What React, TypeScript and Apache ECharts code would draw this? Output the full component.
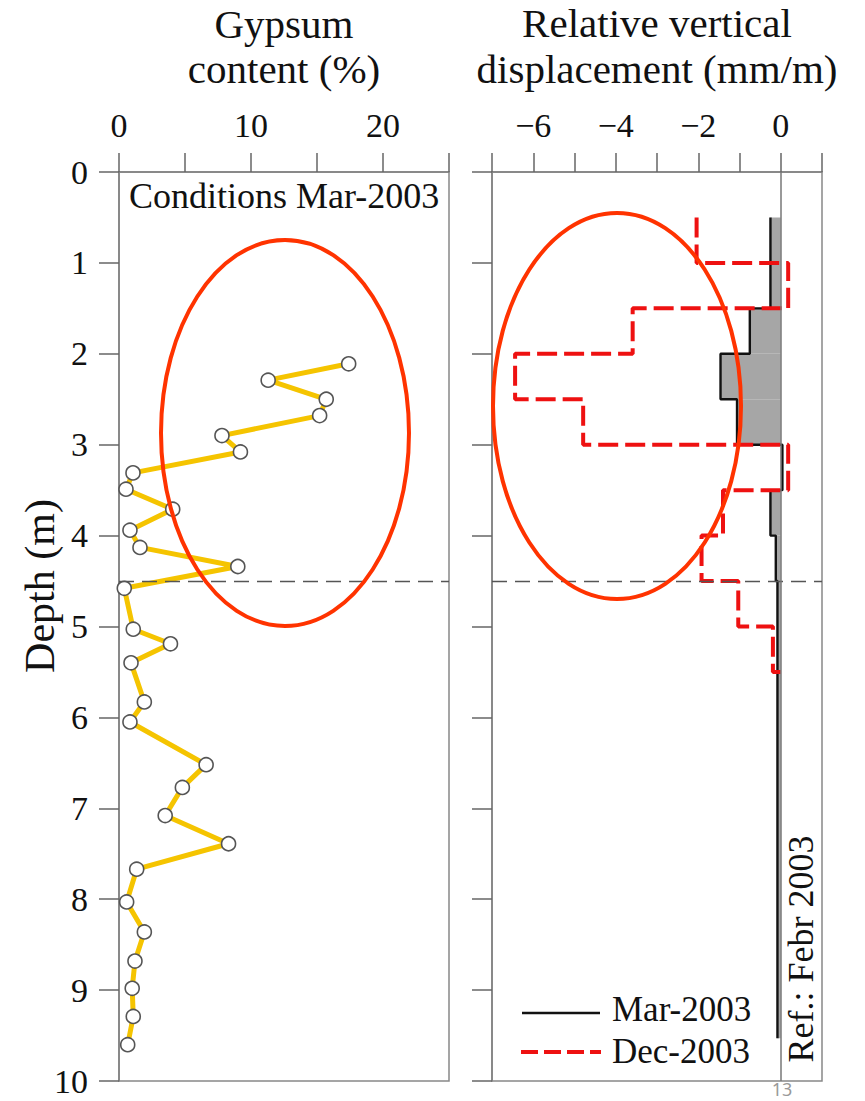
import React, { useEffect, useRef } from "react";
import * as echarts from "echarts";

// Gypsum content profile (Mar-2003)
const gypsumPct = [17.4, 11.3, 15.7, 15.2, 7.8, 9.2, 1.06, 0.53, 4.07, 0.83, 1.59, 9.0, 0.4, 1.08, 3.9, 0.91, 1.92, 0.83, 6.6, 4.8, 3.5, 8.3, 1.34, 0.58, 1.92, 1.21, 1.0, 1.08, 0.66];
const gypsumDepth = [2.11, 2.29, 2.5, 2.68, 2.9, 3.08, 3.31, 3.49, 3.71, 3.94, 4.13, 4.34, 4.58, 5.03, 5.19, 5.4, 5.83, 6.05, 6.52, 6.77, 7.08, 7.39, 7.67, 8.03, 8.36, 8.68, 8.98, 9.29, 9.6];

// Relative vertical displacement, Mar-2003 (interval values)
const marTop = [0.5, 1.5, 2.0, 2.5, 3.0, 3.5, 4.0, 4.5];
const marBottom = [1.5, 2.0, 2.5, 3.0, 3.5, 4.0, 4.5, 9.53];
const marValues = [-0.25, -0.75, -1.46, -1.06, 0.04, -0.25, -0.12, -0.08];

// Relative vertical displacement, Dec-2003 (interval values)
const decEdges = [0.5, 1.0, 1.5, 2.0, 2.5, 3.0, 3.5, 4.0, 4.5, 5.0, 5.5];
const decValues = [-2.04, 0.18, -3.59, -6.44, -4.79, 0.18, -1.4, -1.92, -1.03, -0.19];

const depthTicks = [0, 1, 2, 3, 4, 5, 6, 7, 8, 9, 10];
const gypsumTicks = [0, 10, 20];
const dispTicks = [-6, -4, -2, 0];
const refDepth = 4.5;

const SERIF = "Liberation Serif";

export default function App() {
  const ref = useRef<HTMLDivElement>(null);
  useEffect(() => {
    if (!ref.current) return;
    const chart = echarts.init(ref.current, undefined, { renderer: "svg" });

    const gypsumData = gypsumPct.map((v, i) => [v, gypsumDepth[i]]);
    const marLine: number[][] = [];
    marValues.forEach((v, i) => {
      marLine.push([v, marTop[i]]);
      marLine.push([v, marBottom[i]]);
    });
    const marRects = marValues.map((v, i) => [v, marTop[i], marBottom[i]]);
    const decLine: number[][] = [];
    decValues.forEach((v, i) => {
      decLine.push([v, decEdges[i]]);
      decLine.push([v, decEdges[i + 1]]);
    });
    decLine.push([0, decEdges[decEdges.length - 1]]);

    const axisLineStyle = { color: "#808080", width: 1.5 };
    const tickStyle = { color: "#666", width: 1.5 };
    const labelStyle = { fontFamily: SERIF, fontSize: 34, color: "#111" };

    const option: any = {
      animation: false,
      backgroundColor: "#fff",
      grid: [
        { left: 119, top: 172, width: 330, height: 909, show: true, borderColor: "#888", borderWidth: 1.5 },
        { left: 492, top: 172, width: 330, height: 909, show: true, borderColor: "#888", borderWidth: 1.5 },
      ],
      xAxis: [
        {
          type: "value", gridIndex: 0, position: "top", min: 0, max: 25, interval: 5,
          axisLine: { show: true, lineStyle: axisLineStyle },
          axisTick: { show: true, length: 19, lineStyle: tickStyle },
          splitLine: { show: false },
          axisLabel: {
            ...labelStyle, margin: 30,
            formatter: (v: number) => (gypsumTicks.indexOf(v) >= 0 ? String(v) : ""),
          },
        },
        {
          type: "value", gridIndex: 1, position: "top", min: -7, max: 1, interval: 1,
          axisLine: { show: true, onZero: false, lineStyle: axisLineStyle },
          axisTick: { show: true, length: 19, lineStyle: tickStyle },
          splitLine: { show: false },
          axisLabel: {
            ...labelStyle, margin: 30,
            formatter: (v: number) =>
              dispTicks.indexOf(v) >= 0 ? (v < 0 ? "\u2212" + Math.abs(v) : String(v)) : "",
          },
        },
      ],
      yAxis: [
        {
          type: "value", gridIndex: 0, inverse: true, min: 0, max: 10, interval: 1,
          axisLine: { show: true, lineStyle: axisLineStyle },
          axisTick: { show: true, length: 20, lineStyle: tickStyle },
          splitLine: { show: false },
          axisLabel: {
            ...labelStyle, margin: 31,
            formatter: (v: number) => (depthTicks.indexOf(v) >= 0 ? String(v) : ""),
          },
        },
        {
          type: "value", gridIndex: 1, inverse: true, min: 0, max: 10, interval: 1,
          axisLine: { show: true, onZero: false, lineStyle: axisLineStyle },
          axisTick: { show: true, length: 20, lineStyle: tickStyle },
          splitLine: { show: false },
          axisLabel: { show: false },
        },
      ],
      series: [
        {
          type: "line", name: "Gypsum", xAxisIndex: 0, yAxisIndex: 0,
          data: gypsumData,
          lineStyle: { color: "#f5c400", width: 5 },
          symbol: "circle", symbolSize: 14,
          itemStyle: { color: "#fff", borderColor: "#555", borderWidth: 1.6 },
          z: 3,
          markLine: {
            silent: true, symbol: "none", label: { show: false },
            lineStyle: { color: "#555", type: [15, 8], width: 1.3 },
            data: [{ yAxis: refDepth }],
          },
        },
        {
          type: "custom", name: "MarFill", xAxisIndex: 1, yAxisIndex: 1,
          data: marRects,
          encode: { x: [0], y: [1, 2] },
          renderItem: (params: any, api: any) => {
            const p1 = api.coord([api.value(0), api.value(1)]);
            const p2 = api.coord([0, api.value(2)]);
            const x = Math.min(p1[0], p2[0]);
            const y = Math.min(p1[1], p2[1]);
            return {
              type: "rect",
              shape: { x, y, width: Math.abs(p2[0] - p1[0]), height: Math.abs(p2[1] - p1[1]) },
              style: { fill: "#a6a6a6" },
            };
          },
          z: 1,
        },
        {
          type: "line", name: "Mar-2003", xAxisIndex: 1, yAxisIndex: 1,
          data: marLine, symbol: "none",
          lineStyle: { color: "#111", width: 2.4 },
          z: 3,
          markLine: {
            silent: true, symbol: "none", label: { show: false },
            data: [
              { yAxis: refDepth, lineStyle: { color: "#555", type: [15, 8], width: 1.3 } },
              { xAxis: 0, lineStyle: { color: "#777", type: "solid", width: 1.5 } },
            ],
          },
        },
        {
          type: "line", name: "Dec-2003", xAxisIndex: 1, yAxisIndex: 1,
          data: decLine, symbol: "none",
          lineStyle: { color: "#ee1111", width: 4, type: [20, 7] },
          z: 4,
        },
      ],
      graphic: [
        { type: "text", x: 284, y: 24, style: { text: "Gypsum", font: `41px '${SERIF}'`, fill: "#111", align: "center", verticalAlign: "middle" } },
        { type: "text", x: 284, y: 69, style: { text: "content (%)", font: `41px '${SERIF}'`, fill: "#111", align: "center", verticalAlign: "middle" } },
        { type: "text", x: 657, y: 23, style: { text: "Relative vertical", font: `41px '${SERIF}'`, fill: "#111", align: "center", verticalAlign: "middle" } },
        { type: "text", x: 657, y: 69, style: { text: "displacement (mm/m)", font: `41px '${SERIF}'`, fill: "#111", align: "center", verticalAlign: "middle" } },
        { type: "text", x: 40, y: 586, rotation: Math.PI / 2, style: { text: "Depth (m)", font: `42px '${SERIF}'`, fill: "#111", align: "center", verticalAlign: "middle" } },
        { type: "text", x: 129, y: 196, style: { text: "Conditions Mar-2003", font: `36px '${SERIF}'`, fill: "#111", align: "left", verticalAlign: "middle" } },
        { type: "text", x: 801, y: 949, rotation: Math.PI / 2, style: { text: "Ref.: Febr 2003", font: `36px '${SERIF}'`, fill: "#111", align: "center", verticalAlign: "middle" } },
        { type: "line", shape: { x1: 522, y1: 1013, x2: 600, y2: 1013 }, style: { stroke: "#111", lineWidth: 2.4 } },
        { type: "line", shape: { x1: 521, y1: 1052, x2: 601, y2: 1052 }, style: { stroke: "#ee1111", lineWidth: 4, lineDash: [17, 6] } },
        { type: "text", x: 612, y: 1009, style: { text: "Mar-2003", font: `35px '${SERIF}'`, fill: "#111", align: "left", verticalAlign: "middle" } },
        { type: "text", x: 612, y: 1051, style: { text: "Dec-2003", font: `35px '${SERIF}'`, fill: "#111", align: "left", verticalAlign: "middle" } },
        { type: "ellipse", shape: { cx: 285, cy: 433, rx: 124, ry: 193 }, style: { fill: "none", stroke: "#ff3300", lineWidth: 4 }, z: 10 },
        { type: "ellipse", shape: { cx: 617, cy: 406, rx: 124, ry: 193 }, style: { fill: "none", stroke: "#ff3300", lineWidth: 4 }, z: 10 },
        { type: "text", x: 782, y: 1089, style: { text: "13", font: "18px 'Noto Sans'", fill: "#999", align: "center", verticalAlign: "middle" } },
      ],
    };
    chart.setOption(option);
    return () => chart.dispose();
  }, []);
  return (
    <div
      ref={ref}
      style={{ position: "absolute", left: 0, top: 0, width: 865, height: 1101 }}
    />
  );
}
